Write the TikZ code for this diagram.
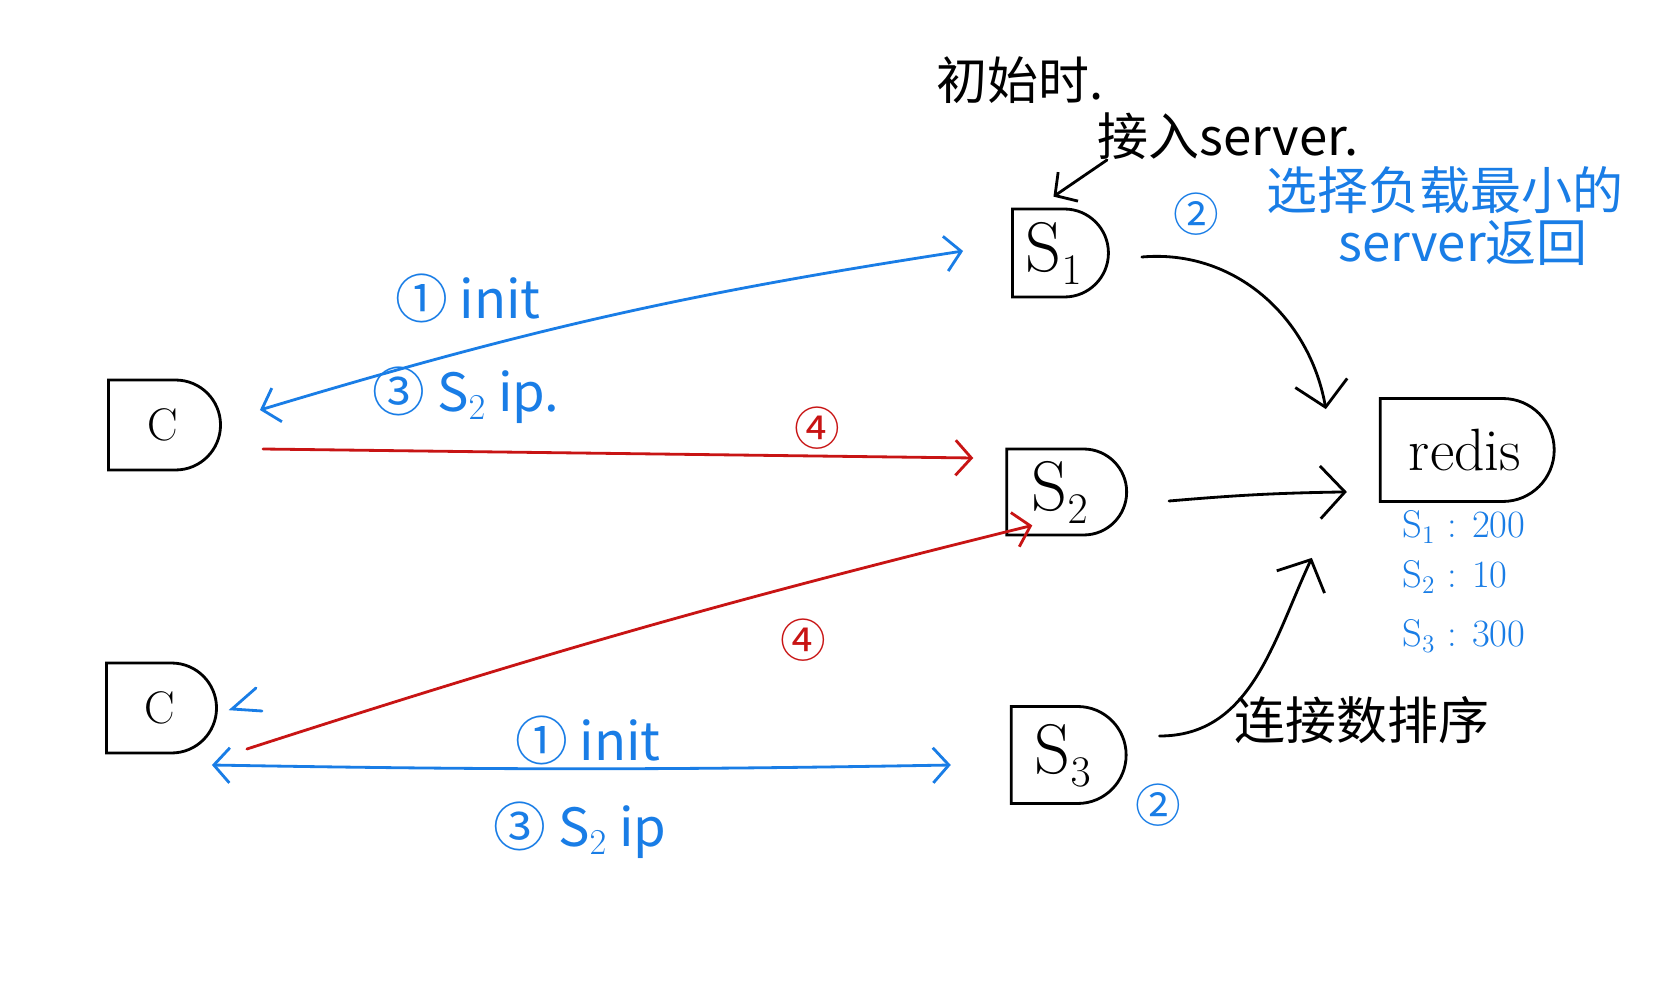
\documentclass[tikz,border=0pt]{standalone}
\usepackage{fontspec}
\newfontfamily\cjk{Noto Sans CJK SC}
\usetikzlibrary{arrows.meta,shapes.misc,calc}
\definecolor{hblue}{RGB}{25,125,230}
\definecolor{hred}{RGB}{200,20,20}
\begin{document}
\begin{tikzpicture}[x=0.02cm,y=-0.02cm,
  box/.style={draw,line width=1.6pt,rounded rectangle,rounded rectangle left arc=none,inner sep=0pt},
  pen/.style={line width=1.6pt,line cap=round},
  barb/.style={pen,-{Straight Barb[length=9pt,width=20pt,line width=1.6pt]}},
  dbarb/.style={pen,{Straight Barb[length=9pt,width=20pt,line width=1.6pt]}-{Straight Barb[length=9pt,width=20pt,line width=1.6pt]}},
  bigbarb/.style={pen,-{Straight Barb[length=14pt,width=30pt,line width=1.6pt]}},
  cjktext/.style={font=\cjk\fontsize{29}{32}\selectfont,inner sep=0pt},
  lat/.style={font=\cjk\fontsize{30}{32}\selectfont,inner sep=0pt},
  circ/.style={font=\cjk\fontsize{26}{28}\selectfont,inner sep=0pt},
  val/.style={font=\fontsize{22}{24}\selectfont,inner sep=0pt,text=hblue,anchor=west}
]
\useasboundingbox[fill=white] (0,0) rectangle (1678,1000);

% boxes
\node[box,minimum width=2.24cm,minimum height=1.8cm,font=\fontsize{26}{28}\selectfont] (C1) at (163,425) {C};
\node[box,minimum width=2.2cm,minimum height=1.8cm,font=\fontsize{26}{28}\selectfont] (C2) at (160,708) {C};
\node[box,minimum width=1.92cm,minimum height=1.76cm,font=\fontsize{40}{42}\selectfont] (S1) at (1054,253) {S$_1$};
\node[box,minimum width=2.4cm,minimum height=1.72cm,font=\fontsize{40}{42}\selectfont] (S2) at (1060,492) {S$_2$};
\node[box,minimum width=2.3cm,minimum height=1.94cm,font=\fontsize{40}{42}\selectfont] (S3) at (1063,755) {S$_3$};
\node[box,minimum width=3.48cm,minimum height=2.06cm,font=\fontsize{34}{36}\selectfont] (redis) at (1465,450) {redis};

% black annotations
\node[cjktext] (tinit) at (1020,80) {初始时.};
\node[cjktext] (tjoin) at (1228,136) {接入server.};
\coordinate (jstart) at (1107,160);
\draw[barb] (jstart) -- ($(S1.north east)+(-11,-11)$);

% blue annotation top right
\node[circ,text=hblue] (n2a) at (1196,214) {②};
\node[cjktext,text=hblue] (tsel1) at (1445,190) {选择负载最小的};
\node[cjktext,text=hblue] (tsel2) at (1463,243) {server返回};

% redis values
\node[val] (v1) at (1402,527) {S$_1$ : 200};
\node[val] (v2) at (1402,577) {S$_2$ : 10};
\node[val] (v3) at (1402,636) {S$_3$ : 300};

% sort label
\node[cjktext] (tsort) at (1362,720) {连接数排序};

% C1 <-> S1 (blue)
\draw[dbarb,hblue] ($(C1.east)+(38,-15)$) to[bend left=4] ($(S1.west)+(-48,-2)$);
\node[lat,text=hblue] (l1) at (468,298) {①\ init};
\node[lat,text=hblue] (l3) at (466,395) {③\ S$_2$ ip.};

% C1 -> S2 (red)
\draw[barb,hred] ($(C1.east)+(41,24)$) -- ($(S2.west)+(-32,-34)$);
\node[circ,text=hred] (r4a) at (817,428) {④};

% C2 -> S2 (red)
\draw[barb,hred] ($(C2.east)+(29,41)$) to[bend left=2] ($(S2.south west)+(27,-11)$);
\node[circ,text=hred] (r4b) at (803,640) {④};

% C2 <-> S3 (blue)
\draw[dbarb,hblue] ($(C2.east)+(-6,57)$) to[bend right=1] ($(S3.west)+(-59,10)$);
\node[lat,text=hblue] (l1b) at (588,740) {①\ init};
\node[lat,text=hblue] (l3b) at (580,830) {③\ S$_2$ ip};
\node[circ,text=hblue] (n2b) at (1158,805) {②};

% stray blue mark near C2
\coordinate (m1) at (256,688);
\coordinate (m2) at (232,709);
\coordinate (m3) at (262,711);
\draw[pen,hblue] (m1) -- (m2) -- (m3);

% servers -> redis (black)
\draw[bigbarb] ($(S1.east)+(32,4)$) to[out=5,in=100] ($(redis.north west)+(-53,12)$);
\draw[bigbarb] ($(S2.east)+(41,9)$) to[bend left=2] ($(redis.south west)+(-32,-11)$);
\draw[bigbarb] ($(S3.east)+(32,-19)$) to[out=0,in=-115] ($(redis.south west)+(-67,55)$);
\end{tikzpicture}
\end{document}
